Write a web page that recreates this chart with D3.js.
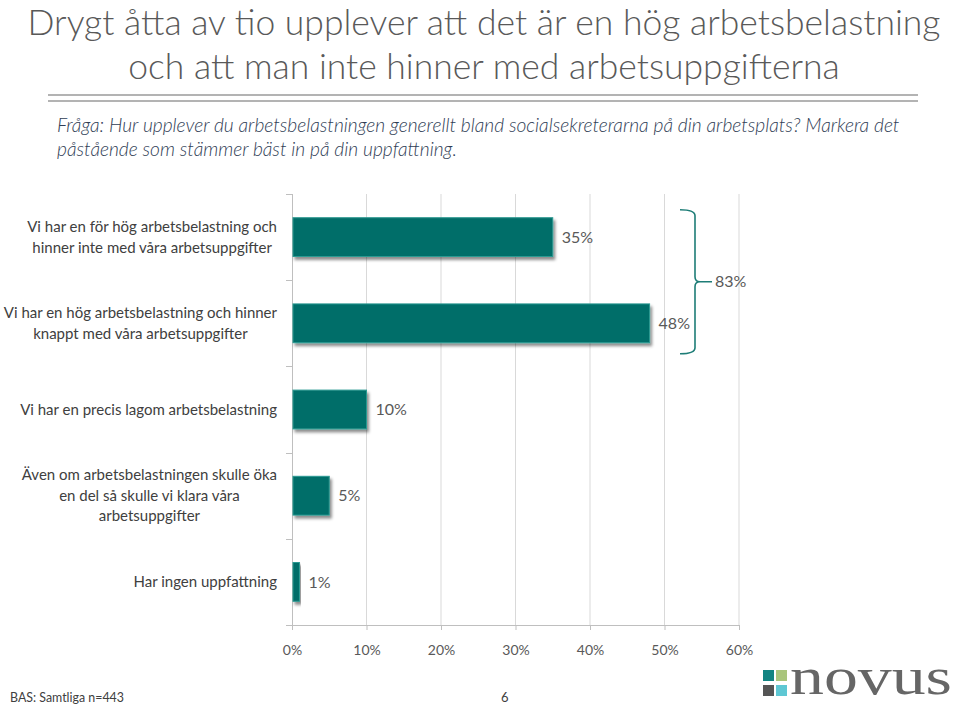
<!DOCTYPE html>
<html><head><meta charset="utf-8">
<script src="https://cdn.jsdelivr.net/npm/d3@7"></script>
<style>body{margin:0;background:#fff}svg{display:block}</style>
</head><body>
<script>
const titleLines = ["Drygt åtta av tio upplever att det är en hög arbetsbelastning", "och att man inte hinner med arbetsuppgifterna"];
const questionLines = ["Fråga: Hur upplever du arbetsbelastningen generellt bland socialsekreterarna på din arbetsplats? Markera det", "påstående som stämmer bäst in på din uppfattning."];
const categories = [
  ["Vi har en för hög arbetsbelastning och", "hinner inte med våra arbetsuppgifter"],
  ["Vi har en hög arbetsbelastning och hinner", "knappt med våra arbetsuppgifter"],
  ["Vi har en precis lagom arbetsbelastning"],
  ["Även om arbetsbelastningen skulle öka", "en del så skulle vi klara våra", "arbetsuppgifter"],
  ["Har ingen uppfattning"]
];
const values = [0.35, 0.48, 0.10, 0.05, 0.01];
const xTicks = [0, 0.1, 0.2, 0.3, 0.4, 0.5, 0.6];
const bracketTotal = "83%";
const footnote = "BAS: Samtliga n=443";
const pageNo = "6";

const W = 960, H = 706;
const svg = d3.select("body").append("svg").attr("width", W).attr("height", H);
const defs = svg.append("defs");
const f = defs.append("filter").attr("id","sh").attr("x","-10%").attr("y","-30%").attr("width","130%").attr("height","180%");
f.append("feDropShadow").attr("dx",2).attr("dy",3).attr("stdDeviation",1.8).attr("flood-color","#000").attr("flood-opacity",0.45);

// Title
const title = svg.append("g").attr("font-family","Lato, sans-serif").attr("font-weight",300).attr("fill","#595959").attr("font-size",35.5);
title.append("text").attr("x",484).attr("y",35).attr("text-anchor","middle").text(titleLines[0]);
title.append("text").attr("x",484).attr("y",79).attr("text-anchor","middle").text(titleLines[1]);
svg.append("line").attr("x1",48).attr("x2",918).attr("y1",95).attr("y2",95).attr("stroke","#b3b3b3").attr("stroke-width",2);
svg.append("line").attr("x1",48).attr("x2",918).attr("y1",101).attr("y2",101).attr("stroke","#b3b3b3").attr("stroke-width",2);

const q = svg.append("g").attr("font-family","Lato, sans-serif").attr("font-style","italic").attr("font-weight",300).attr("fill","#2f3d55").attr("font-size",19.2);
q.append("text").attr("x",57).attr("y",132).text(questionLines[0]);
q.append("text").attr("x",57).attr("y",156).text(questionLines[1]);

// Scales
const x = d3.scaleLinear().domain([0, 0.6]).range([292, 739]);
const y = d3.scaleBand().domain(d3.range(categories.length)).range([194, 625]).paddingInner(0.55).paddingOuter(0.275);

// grid
svg.append("g").selectAll("line").data(xTicks.slice(1)).join("line")
  .attr("x1",d=>x(d)).attr("x2",d=>x(d)).attr("y1",194).attr("y2",625)
  .attr("stroke","#d9d9d9").attr("stroke-width",1);

// x axis
const xa = svg.append("g").attr("transform","translate(0,625)")
  .call(d3.axisBottom(x).tickValues(xTicks).tickFormat(d3.format(".0%")).tickSize(5).tickSizeOuter(0));
xa.select(".domain").attr("stroke","#bfbfbf");
xa.selectAll(".tick line").attr("stroke","#bfbfbf");
xa.selectAll("text").attr("font-family","Lato, sans-serif").attr("font-size",14).attr("fill","#595959").attr("dy","1.55em");

// y axis line + ticks at band boundaries
const bounds = d3.range(categories.length + 1).map(i => y.range()[0] + i * y.step());
svg.append("line").attr("x1",292.5).attr("x2",292.5).attr("y1",194).attr("y2",625).attr("stroke","#bfbfbf");
svg.append("g").selectAll("line").data(bounds).join("line")
  .attr("x1",286).attr("x2",292.5).attr("y1",d=>Math.round(d)+0.5).attr("y2",d=>Math.round(d)+0.5).attr("stroke","#bfbfbf");

// bars
svg.append("g").selectAll("rect").data(values).join("rect")
  .attr("x", x(0)+1).attr("y",(d,i)=>y(i)).attr("width",d=>x(d)-x(0)-1).attr("height",y.bandwidth())
  .attr("fill","#006e69").attr("stroke","#2c9a92").attr("stroke-width",1).attr("filter","url(#sh)");

// value labels
svg.append("g").selectAll("text").data(values).join("text")
  .attr("x",d=>x(d)+9).attr("y",(d,i)=>y(i)+y.bandwidth()/2).attr("dy","0.36em")
  .attr("font-family","Lato, sans-serif").attr("font-size",16).attr("fill","#595959")
  .text(d=>d3.format(".0%")(d));

// category labels
const lh = 20.5;
categories.forEach((lines, i) => {
  const g = svg.append("g").attr("font-family","Lato, sans-serif").attr("font-size",15).attr("fill","#404040");
  const cy = y(i) + y.bandwidth()/2;
  const ts = lines.map((l, j) => g.append("text").attr("y", cy + (j - (lines.length-1)/2)*lh).attr("dy","0.35em").text(l));
  const maxW = d3.max(ts, t => t.node().getComputedTextLength());
  const cx = 277 - maxW/2;
  ts.forEach(t => t.attr("x", cx).attr("text-anchor","middle"));
});

// bracket
const bTop = y(0) - 8, bBot = y(1) + y.bandwidth() + 11, bMid = (bTop + bBot)/2;
const bx = 695;
svg.append("path")
  .attr("d", `M680,${bTop} Q${bx},${bTop} ${bx},${bTop+6} L${bx},${bMid-5} Q${bx},${bMid} ${bx+5},${bMid} L712,${bMid} M${bx+5},${bMid} Q${bx},${bMid} ${bx},${bMid+5} L${bx},${bBot-6} Q${bx},${bBot} 680,${bBot}`)
  .attr("fill","none").attr("stroke","#1e7d77").attr("stroke-width",1.6);
svg.append("text").attr("x",715).attr("y",bMid).attr("dy","0.36em").attr("font-family","Lato, sans-serif").attr("font-size",16).attr("fill","#595959").text(bracketTotal);

// footer
svg.append("text").attr("x",10).attr("y",702).attr("font-family","Lato, sans-serif").attr("font-size",12.4).attr("fill","#404040").text(footnote);
svg.append("text").attr("x",501).attr("y",702).attr("font-family","Lato, sans-serif").attr("font-size",13).attr("fill","#404040").text(pageNo);

// logo
const logo = svg.append("g");
[["#128482",763,670],["#a9c57c",776,670],["#555555",763,685],["#5ec7d3",776,685]].forEach(s=>{
  logo.append("rect").attr("x",s[1]).attr("y",s[2]).attr("width",11).attr("height",11).attr("fill",s[0]);
});
logo.append("text").attr("x",790).attr("y",694).attr("font-family","'Liberation Serif', serif").attr("font-size",53).attr("fill","#666")
  .attr("textLength",162).attr("lengthAdjust","spacingAndGlyphs").text("novus");
</script>
</body></html>
